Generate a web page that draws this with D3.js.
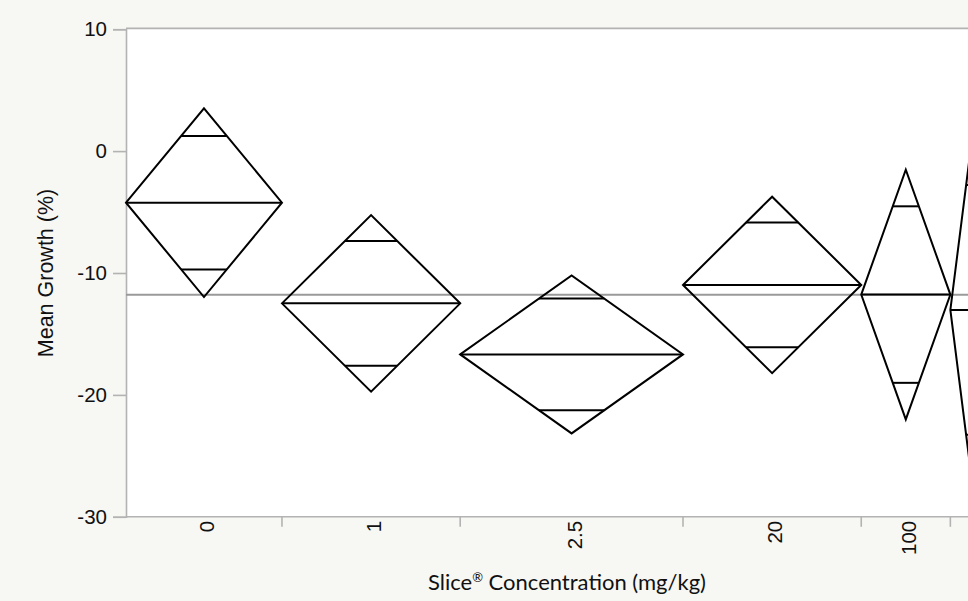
<!DOCTYPE html>
<html>
<head>
<meta charset="utf-8">
<script src="https://cdn.jsdelivr.net/npm/d3@7"></script>
<style>
  html, body { margin: 0; padding: 0; background: #f7f7f3; overflow: hidden; }
  svg { display: block; }
</style>
</head>
<body>
<svg id="chart" width="968" height="601"></svg>
<script>
// Slice® concentration groups, group sizes and 95% confidence limits of the mean growth
const categories = ["0", "1", "2.5", "20", "100", "500"];
const counts = [7, 8, 10, 8, 4, 2];
const means = [-4.23, -12.49, -16.68, -10.98, -11.77, -13.03];
const upperCI = [3.51, -5.25, -10.20, -3.74, -1.53, 1.45];
const lowerCI = [-11.97, -19.73, -23.16, -18.22, -22.01, -27.51];
const grandMean = -11.78;
const yTicks = [10, 0, -10, -20, -30];

const svg = d3.select("#chart");
const plotLeft = 126, plotTop = 29.2, plotBottom = 516.8;
const unit = 22.28;
const totalN = d3.sum(counts);
const starts = counts.map((c, i) => d3.sum(counts.slice(0, i)));

const x = d3.scaleLinear().domain([0, totalN]).range([plotLeft, plotLeft + totalN * unit]);
const y = d3.scaleLinear().domain([-30, 10]).range([plotBottom, plotTop]);

const axisGray = "#b3b3b3";
const sans = "'Liberation Sans', Arial, Helvetica, sans-serif";

// plot area
svg.append("rect")
  .attr("x", plotLeft).attr("y", y(10))
  .attr("width", x(totalN) - plotLeft).attr("height", plotBottom - y(10))
  .attr("fill", "#ffffff");

// frame: top border
svg.append("line")
  .attr("x1", plotLeft).attr("x2", x(totalN))
  .attr("y1", y(10) - 0.8).attr("y2", y(10) - 0.8)
  .attr("stroke", axisGray).attr("stroke-width", 1.6);

// y axis
const yAxis = d3.axisLeft(y).tickValues(yTicks).tickSize(13).tickPadding(6).tickFormat(d => String(d));
const gy = svg.append("g").attr("transform", `translate(${plotLeft},0)`).call(yAxis);
gy.select(".domain").attr("stroke", axisGray).attr("stroke-width", 1.6);
gy.selectAll(".tick line").attr("stroke", axisGray).attr("stroke-width", 1.6);
gy.selectAll(".tick text")
  .attr("font-family", sans)
  .attr("font-size", "20.5px").attr("fill", "#111");

// x axis: boundary ticks between groups, labels at group centres
svg.append("line")
  .attr("x1", plotLeft).attr("x2", x(totalN))
  .attr("y1", plotBottom).attr("y2", plotBottom)
  .attr("stroke", axisGray).attr("stroke-width", 1.6);

const bounds = starts.slice(1);
svg.append("g").selectAll("line").data(bounds).join("line")
  .attr("x1", d => x(d)).attr("x2", d => x(d))
  .attr("y1", plotBottom).attr("y2", plotBottom + 10)
  .attr("stroke", axisGray).attr("stroke-width", 1.6);

svg.append("g").selectAll("text").data(categories).join("text")
  .attr("transform", (d, i) => `translate(${x(starts[i] + counts[i] / 2) + 3},${plotBottom + 4}) rotate(-90)`)
  .attr("text-anchor", "end")
  .attr("dy", "0.35em")
  .attr("font-family", sans)
  .attr("font-size", "20.5px").attr("fill", "#111")
  .text(d => d);

// grand mean reference line
svg.append("line")
  .attr("x1", plotLeft).attr("x2", x(totalN))
  .attr("y1", y(grandMean)).attr("y2", y(grandMean))
  .attr("stroke", "#9a9a9a").attr("stroke-width", 2);

// means diamonds
const groups = categories.map((c, i) => ({
  x0: x(starts[i]), x1: x(starts[i] + counts[i]), xc: x(starts[i] + counts[i] / 2),
  mean: means[i], hi: upperCI[i], lo: lowerCI[i]
}));

const g = svg.append("g").attr("fill", "none").attr("stroke", "#000").attr("stroke-width", 2)
  .attr("stroke-linejoin", "miter");

groups.forEach(d => {
  g.append("path").attr("d",
    `M${d.x0},${y(d.mean)}L${d.xc},${y(d.hi)}L${d.x1},${y(d.mean)}L${d.xc},${y(d.lo)}Z`);
  g.append("line").attr("x1", d.x0).attr("x2", d.x1)
    .attr("y1", y(d.mean)).attr("y2", y(d.mean));
  // overlap marks at mean ± half-interval / sqrt(2)
  const f = 1 - Math.SQRT1_2;
  const half = (d.x1 - d.x0) / 2 * f;
  [d.mean + (d.hi - d.mean) * Math.SQRT1_2, d.mean - (d.mean - d.lo) * Math.SQRT1_2].forEach(v => {
    g.append("line").attr("x1", d.xc - half).attr("x2", d.xc + half)
      .attr("y1", y(v)).attr("y2", y(v));
  });
});

// axis titles
svg.append("text")
  .attr("transform", `translate(45,${(plotTop + plotBottom) / 2}) rotate(-90)`)
  .attr("text-anchor", "middle").attr("dy", "0.35em")
  .attr("font-family", sans)
  .attr("font-size", "21.5px").attr("fill", "#111")
  .text("Mean Growth (%)");

const xTitle = svg.append("text")
  .attr("x", 567).attr("y", 590)
  .attr("text-anchor", "middle")
  .attr("font-family", "Lato, 'Open Sans', sans-serif")
  .attr("font-size", "22px").attr("fill", "#111");
xTitle.append("tspan").text("Slice");
xTitle.append("tspan").attr("font-size", "13px").attr("dy", "-8").text("®");
xTitle.append("tspan").attr("dy", "8").text(" Concentration (mg/kg)");
</script>
</body>
</html>
